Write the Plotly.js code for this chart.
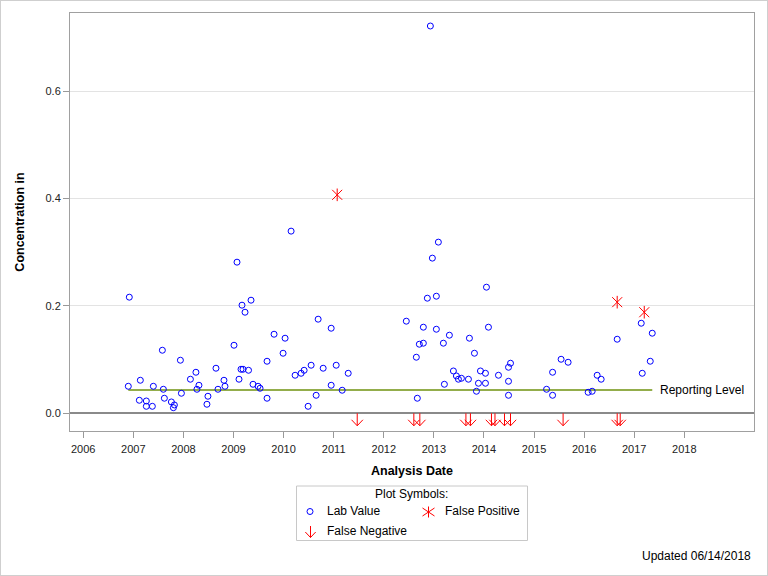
<!DOCTYPE html>
<html>
<head>
<meta charset="utf-8">
<script src="https://cdn.plot.ly/plotly-3.0.1.min.js"></script>
<style>
  html, body { margin: 0; padding: 0; background: #fff; }
  #wrap { position: relative; width: 768px; height: 576px; }
  #chart { position: absolute; left: 0; top: 0; width: 768px; height: 576px; }
  #frame { position: absolute; left: 0; top: 0; width: 768px; height: 576px; box-sizing: border-box; border: 1px solid #cfcfcf; pointer-events: none; }
</style>
</head>
<body>
<div id="wrap"><div id="chart"></div><div id="frame"></div></div>
<script>
// ---- data (decimal year of analysis, concentration) ----
const labDates = [2006.90, 2006.92, 2007.12, 2007.14, 2007.26, 2007.26, 2007.38, 2007.40, 2007.58, 2007.60,
  2007.62, 2007.76, 2007.80, 2007.82, 2007.94, 2007.96, 2008.14, 2008.25, 2008.27, 2008.31,
  2008.47, 2008.49, 2008.65, 2008.69, 2008.81, 2008.83, 2009.01, 2009.07, 2009.11, 2009.15,
  2009.17, 2009.19, 2009.23, 2009.30, 2009.35, 2009.39, 2009.49, 2009.53, 2009.67, 2009.67,
  2009.81, 2009.99, 2010.03, 2010.15, 2010.23, 2010.35, 2010.41, 2010.49, 2010.55, 2010.65,
  2010.69, 2010.79, 2010.95, 2010.95, 2011.05, 2011.17, 2011.29, 2012.45, 2012.65, 2012.67,
  2012.71, 2012.79, 2012.79, 2012.87, 2012.93, 2012.97, 2013.05, 2013.05, 2013.09, 2013.19,
  2013.21, 2013.31, 2013.39, 2013.45, 2013.49, 2013.55, 2013.69, 2013.71, 2013.81, 2013.85,
  2013.89, 2013.93, 2014.03, 2014.03, 2014.05, 2014.09, 2014.29, 2014.49, 2014.49, 2014.49,
  2014.53, 2015.25, 2015.37, 2015.37, 2015.54, 2015.68, 2016.08, 2016.16, 2016.26, 2016.34,
  2016.66, 2017.14, 2017.16, 2017.32, 2017.36];
const labValues = [0.0503, 0.2162, 0.0242, 0.0615, 0.0229, 0.0130, 0.0130, 0.0503, 0.1174, 0.0447,
  0.0280, 0.0211, 0.0104, 0.0155, 0.0988, 0.0373, 0.0634, 0.0764, 0.0447, 0.0522,
  0.0168, 0.0317, 0.0839, 0.0447, 0.0615, 0.0503, 0.1267, 0.2814, 0.0634, 0.0820,
  0.2013, 0.0820, 0.1882, 0.0801, 0.2106, 0.0540, 0.0503, 0.0466, 0.0280, 0.0969,
  0.1472, 0.1118, 0.1398, 0.3392, 0.0708, 0.0745, 0.0801, 0.0130, 0.0895, 0.0335,
  0.1752, 0.0839, 0.1584, 0.0522, 0.0895, 0.0429, 0.0745, 0.1715, 0.1044, 0.0280,
  0.1286, 0.1305, 0.1603, 0.2143, 0.7212, 0.2889, 0.1565, 0.2180, 0.3187, 0.1305,
  0.0540, 0.1454, 0.0788, 0.0695, 0.0634, 0.0652, 0.0634, 0.1398, 0.1118, 0.0410,
  0.0559, 0.0788, 0.0745, 0.0559, 0.2348, 0.1603, 0.0708, 0.0857, 0.0596, 0.0335,
  0.0932, 0.0447, 0.0335, 0.0764, 0.1006, 0.0950, 0.0391, 0.0410, 0.0708, 0.0634,
  0.1379, 0.1677, 0.0745, 0.0969, 0.1491];

const fpDates = [2011.07, 2016.66, 2017.20];
const fpValues = [0.4068, 0.2069, 0.1882];

const fnDates = [2011.47, 2012.60, 2012.72, 2013.64, 2013.73, 2014.15, 2014.22, 2014.41, 2014.53, 2015.58, 2016.66, 2016.72];
const fnValues = [0, 0, 0, 0, 0, 0, 0, 0, 0, 0, 0, 0];

const reportingLevel = 0.0434;
const yearTicks = [2006, 2007, 2008, 2009, 2010, 2011, 2012, 2013, 2014, 2015, 2016, 2017, 2018];
const yearLabels = ['2006', '2007', '2008', '2009', '2010', '2011', '2012', '2013', '2014', '2015', '2016', '2017', '2018'];

// ---- styling ----
const FONT = 'Liberation Sans, Arial, Helvetica, sans-serif';
const BLUE = '#0000ff';
const RED = '#ff0000';
const GREEN = '#93ad4b';

const allDates = labDates.concat(fpDates);
const firstDate = Math.min.apply(null, allDates);
const lastDate = Math.max.apply(null, labDates);

const traces = [
  {
    x: [firstDate, lastDate], y: [reportingLevel, reportingLevel],
    type: 'scatter', mode: 'lines', line: { color: GREEN, width: 2 },
    showlegend: false, hoverinfo: 'skip'
  },
  {
    x: labDates, y: labValues, type: 'scatter', mode: 'markers', name: 'Lab Value',
    marker: { symbol: 'circle-open', size: 6, color: BLUE, line: { width: 1, color: BLUE } },
    showlegend: false
  },
  {
    x: fpDates, y: fpValues, type: 'scatter', mode: 'markers', name: 'False Positive',
    marker: { symbol: 'x-thin-open', size: 10, color: RED, line: { width: 1, color: RED } },
    showlegend: false
  },
  {
    x: fpDates, y: fpValues, type: 'scatter', mode: 'markers', name: 'False Positive',
    marker: { symbol: 'line-ns-open', size: 9, color: RED, line: { width: 1, color: RED } },
    showlegend: false, hoverinfo: 'skip'
  }
];

const ARROW = 'M0,0V-12.5M-5.7,-6.5L0,-12.5L5.7,-6.5';
const shapes = fnDates.map((d, i) => ({
  type: 'path', xref: 'x', yref: 'y', xsizemode: 'pixel', ysizemode: 'pixel',
  xanchor: d, yanchor: fnValues[i], path: ARROW,
  line: { color: RED, width: 1 }, layer: 'above'
}));

// custom legend (box + symbols)
const PW = 684, PH = 418, ML = 70, PT = 13;
const px2x = p => (p - ML) / PW;
const px2y = p => (PT + PH - p) / PH;
shapes.push({
  type: 'rect', xref: 'paper', yref: 'paper',
  x0: px2x(296.5), x1: px2x(527.5), y0: px2y(486), y1: px2y(540.5),
  line: { color: '#c8c8c8', width: 1 }, fillcolor: 'rgba(0,0,0,0)'
});
shapes.push({
  type: 'circle', xref: 'paper', yref: 'paper', xsizemode: 'pixel', ysizemode: 'pixel',
  xanchor: px2x(310), yanchor: px2y(511.5), x0: -3, x1: 3, y0: -3, y1: 3,
  line: { color: BLUE, width: 1 }
});
shapes.push({
  type: 'path', xref: 'paper', yref: 'paper', xsizemode: 'pixel', ysizemode: 'pixel',
  xanchor: px2x(428.5), yanchor: px2y(512), path: 'M0,-5.5V5.5M-6,-4L6,4M-6,4L6,-4',
  line: { color: RED, width: 1 }
});
shapes.push({
  type: 'path', xref: 'paper', yref: 'paper', xsizemode: 'pixel', ysizemode: 'pixel',
  xanchor: px2x(310.5), yanchor: px2y(526), path: 'M0,0V-11.5M-5.2,-6L0,-11.5L5.2,-6',
  line: { color: RED, width: 1 }
});

const textFont = { family: FONT, size: 12, color: '#000' };
const annotations = [
  { xref: 'x', yref: 'y', x: lastDate, y: reportingLevel, xanchor: 'left', yanchor: 'middle',
    xshift: 6, text: 'Reporting Level', showarrow: false, font: textFont },
  { xref: 'paper', yref: 'paper', x: px2x(411.5), y: px2y(494.5), xanchor: 'center', yanchor: 'middle',
    text: 'Plot Symbols:', showarrow: false, font: textFont },
  { xref: 'paper', yref: 'paper', x: px2x(325), y: px2y(511.5), xanchor: 'left', yanchor: 'middle',
    text: 'Lab Value', showarrow: false, font: textFont },
  { xref: 'paper', yref: 'paper', x: px2x(443), y: px2y(511.5), xanchor: 'left', yanchor: 'middle',
    text: 'False Positive', showarrow: false, font: textFont },
  { xref: 'paper', yref: 'paper', x: px2x(325), y: px2y(530.5), xanchor: 'left', yanchor: 'middle',
    text: 'False Negative', showarrow: false, font: textFont },
  { xref: 'paper', yref: 'paper', x: px2x(753), y: px2y(556), xanchor: 'right', yanchor: 'middle',
    text: 'Updated 06/14/2018', showarrow: false, font: textFont }
];

const layout = {
  width: 768, height: 576,
  margin: { l: 70, r: 14, t: 13, b: 145, pad: 0 },
  paper_bgcolor: '#fff', plot_bgcolor: '#fff',
  font: { family: FONT, size: 11, color: '#000' },
  showlegend: false,
  xaxis: {
    type: 'linear', range: [2005.736, 2019.391],
    tickmode: 'array', tickvals: yearTicks, ticktext: yearLabels,
    ticks: 'outside', ticklen: 6, tickwidth: 1, tickcolor: '#999',
    ticklabelstandoff: 2,
    showline: true, mirror: true, linecolor: '#a0a0a0', linewidth: 1,
    showgrid: false, zeroline: false,
    tickfont: { family: FONT, size: 11, color: '#222' },
    title: { text: 'Analysis Date', standoff: 12, font: { family: FONT, size: 12.5, color: '#000', weight: 'bold' } }
  },
  yaxis: {
    range: [-0.033, 0.7454],
    tickmode: 'linear', tick0: 0, dtick: 0.2, tickformat: '.1f',
    ticks: 'outside', ticklen: 6, tickwidth: 1, tickcolor: '#999',
    showline: true, mirror: true, linecolor: '#a0a0a0', linewidth: 1,
    showgrid: true, gridcolor: '#e3e3e3', gridwidth: 1,
    zeroline: true, zerolinecolor: '#8a8a8a', zerolinewidth: 2,
    tickfont: { family: FONT, size: 11, color: '#222' },
    title: { text: 'Concentration in', standoff: 18, font: { family: FONT, size: 12.5, color: '#000', weight: 'bold' } }
  },
  shapes: shapes,
  annotations: annotations
};

Plotly.newPlot('chart', traces, layout, { staticPlot: true, displayModeBar: false });
</script>
</body>
</html>
